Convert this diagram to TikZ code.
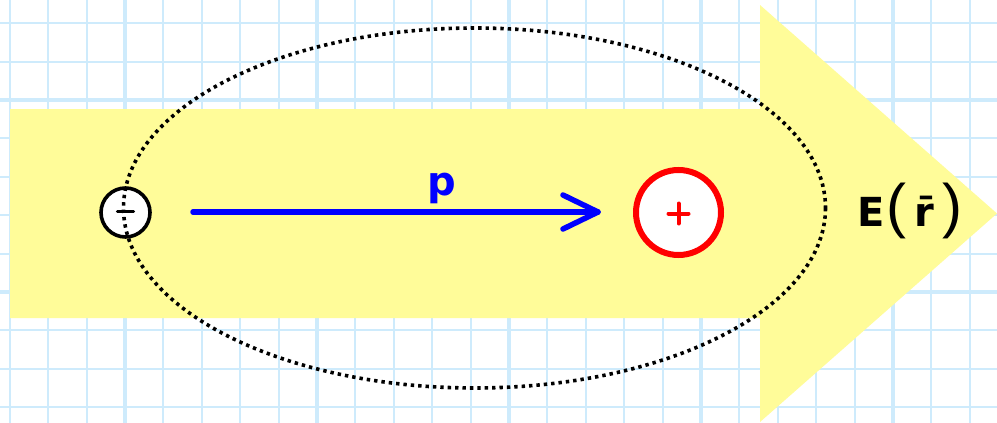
\documentclass[tikz,border=0pt]{standalone}
\usepackage{fontspec}
\setmainfont{DejaVu Sans}
\newfontfamily\parfont{Liberation Sans}
\definecolor{gridc}{RGB}{206,235,252}
\definecolor{yell}{RGB}{255,252,153}
\definecolor{pblue}{RGB}{0,0,255}
\definecolor{pred}{RGB}{255,0,0}
\tikzset{
  gridminor/.style={draw=gridc, line width=2pt},
  gridmajor/.style={draw=gridc, line width=4pt},
  charge/.style={circle, inner sep=0pt},
  signline/.style={line cap=round, line width=4pt},
  orbit/.style={draw=black, line width=3.6pt, dash pattern=on 3.4pt off 4pt},
  dipole/.style={draw=pblue, line width=5.5pt, line cap=round, line join=round},
}
\begin{document}
\begin{tikzpicture}[x=1pt,y=-1pt]
\useasboundingbox (0,0) rectangle (997,423);
\fill[white] (0,0) rectangle (997,423);
% grid
\foreach \i in {0,...,25} {\draw[gridminor] (9.8+\i*38.4,0) -- (9.8+\i*38.4,423);}
\foreach \j in {0,...,10} {\draw[gridminor] (0,23.2+\j*38.4) -- (997,23.2+\j*38.4);}
\foreach \k in {0,...,4} {\draw[gridmajor] (125+\k*192,0) -- (125+\k*192,423);}
\foreach \y in {100,292} {\draw[gridmajor] (0,\y) -- (997,\y);}
% big field arrow
\fill[yell] (10,109) -- (760,109) -- (760,5) -- (997,213.5) -- (760,422) -- (760,318) -- (10,318) -- cycle;
% dipole moment arrow
\coordinate (ps) at (193,212);
\coordinate (pe) at (598,212);
\draw[dipole] (ps) -- (pe);
\draw[dipole] (pe) ++(-35,-17) -- (pe) -- ++(-35,17);
\node[text=pblue, font=\fontsize{40}{44}\selectfont\bfseries] (plab) at (442,188) {p};
% charges
\node[charge, draw=black, fill=white, line width=3.6pt, minimum size=49pt] (neg) at (125.5,212.5) {};
\draw[signline, line width=3.4pt] (neg.center) ++(-8,-1) -- ++(16,0);
\node[charge, draw=pred, fill=white, line width=6pt, minimum size=85pt] (pos) at (678.5,212.5) {};
\draw[signline, draw=pred] (pos.center) ++(-10,1) -- ++(20,0);
\draw[signline, draw=pred] (pos.center) ++(0,-9) -- ++(0,20);
% orbit
\coordinate (orbitc) at (474.5,208);
\draw[orbit] (orbitc) ellipse [x radius=351, y radius=180];
% field label
\node[font=\fontsize{40}{44}\selectfont, inner sep=0pt] (Elab) at (910,211) {{\bfseries E}\kern2pt{\parfont\fontsize{60}{64}\selectfont(}\kern8pt{\bfseries\={r}}\kern8pt{\parfont\fontsize{60}{64}\selectfont)}};
\end{tikzpicture}
\end{document}
